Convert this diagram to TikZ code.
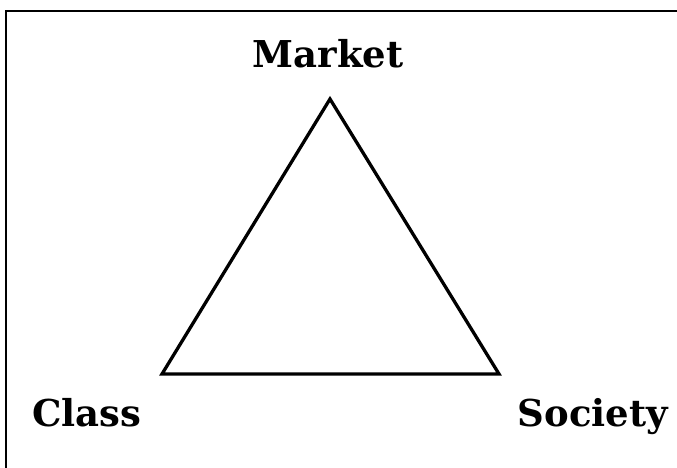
\documentclass[tikz,border=0pt]{standalone}
\usepackage{fontspec}
\setmainfont{DejaVu Serif}
\usepackage{tikz}
\usetikzlibrary{positioning}

\begin{document}
\begin{tikzpicture}[
  x=1pt,y=-1pt,
  lbl/.style={anchor=base,inner sep=0pt,font=\fontsize{37}{40}\selectfont\bfseries},
  side/.style={line width=3.3pt,line join=miter},
  frame/.style={line width=2pt}
]
\useasboundingbox (0,0) rectangle (677,467);
% frame, cut at the right and bottom
\coordinate (fbl) at (6,470);
\coordinate (ftl) at (6,11);
\coordinate (ftr) at (680,11);
\draw[frame] (fbl) -- (ftl) -- (ftr);
% corners of the triangle
\coordinate (top) at (330,99);
\coordinate (left) at (162,374);
\coordinate (right) at (499,374);
\draw[side] (top) -- (right) -- (left) -- cycle;
% labels
\node[lbl] (market) at (328,67) {Market};
\node[lbl] (class) at (87,426) {Class};
\node[lbl] (society) at (593,426) {Society};
\end{tikzpicture}
\end{document}
